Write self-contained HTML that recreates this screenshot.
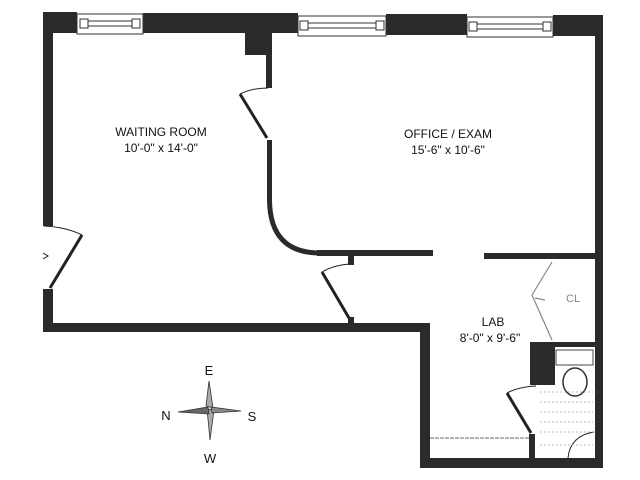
<!DOCTYPE html>
<html><head><meta charset="utf-8"><style>
html,body{margin:0;padding:0;background:#fff;width:640px;height:480px;overflow:hidden}
svg{display:block}
text{font-family:"Liberation Sans",sans-serif;font-size:12px;fill:#111}
</style></head><body>
<svg width="640" height="480" viewBox="0 0 640 480" xmlns="http://www.w3.org/2000/svg">
<g fill="#2a2a2a">
<!-- top wall -->
<rect x="43" y="12" width="34" height="21"/>
<rect x="143" y="13" width="155" height="20"/>
<rect x="245" y="33" width="27" height="22"/>
<rect x="266" y="33" width="6" height="55"/>
<rect x="386" y="14" width="81" height="21"/>
<rect x="553" y="15" width="50" height="21"/>
<!-- left wall -->
<rect x="43" y="12" width="10" height="214"/>
<rect x="43" y="289" width="10" height="43"/>
<!-- bottom of waiting -->
<rect x="43" y="323" width="387" height="9"/>
<!-- lab walls -->
<rect x="420" y="323" width="10" height="145"/>
<rect x="420" y="458" width="183" height="10"/>
<!-- right wall -->
<rect x="595" y="15" width="8" height="453"/>
<!-- partition -->
<rect x="267" y="140" width="5" height="62"/>
<rect x="317" y="250" width="116" height="6"/>
<rect x="484" y="253" width="112" height="6"/>
<!-- lab door blocks -->
<rect x="348" y="256" width="6" height="9"/>
<rect x="348" y="317" width="6" height="9"/>
<!-- bathroom -->
<rect x="530" y="342" width="66" height="5"/>
<rect x="530" y="342" width="25" height="43"/>
<rect x="529" y="434" width="6" height="26"/>
</g>
<!-- curved partition -->
<path d="M269.5,200 Q270,253 320,253" fill="none" stroke="#2a2a2a" stroke-width="5"/>
<!-- windows -->
<g fill="#fff" stroke="#333" stroke-width="1">
<rect x="77" y="14" width="66" height="20"/>
<rect x="80" y="19" width="8" height="9"/><rect x="132" y="19" width="8" height="9"/>
<line x1="88" y1="21" x2="132" y2="21"/><line x1="88" y1="26" x2="132" y2="26"/>
<rect x="298" y="16" width="88" height="20"/>
<rect x="300" y="21" width="8" height="9"/><rect x="376" y="21" width="8" height="9"/>
<line x1="308" y1="23" x2="376" y2="23"/><line x1="308" y1="28" x2="376" y2="28"/>
<rect x="467" y="17" width="86" height="20"/>
<rect x="469" y="22" width="8" height="9"/><rect x="543" y="22" width="8" height="9"/>
<line x1="477" y1="24" x2="543" y2="24"/><line x1="477" y1="29" x2="543" y2="29"/>
</g>
<!-- doors -->
<g stroke="#222" fill="none">
<line x1="240" y1="94" x2="267" y2="138" stroke-width="3"/>
<path d="M240,94 Q252,88 268,88" stroke-width="1"/>
<line x1="50" y1="288" x2="82" y2="235" stroke-width="3"/>
<path d="M44,226 Q66,227 82,235" stroke-width="1"/>
<path d="M43,253 L48,256 L43,259" stroke-width="1"/>
<line x1="322" y1="272" x2="349" y2="318" stroke-width="3"/>
<path d="M322,272 Q334,265 350,264" stroke-width="1"/>
<line x1="507" y1="393" x2="531" y2="433" stroke-width="3"/>
<path d="M507,393 Q518,387 536,386" stroke-width="1"/>
<path d="M568,458 Q570,436 594,432" stroke-width="1"/>
</g>
<!-- closet -->
<g stroke="#888" fill="none" stroke-width="1.2">
<polyline points="552,262 532,295 552,340"/>
<line x1="535" y1="298" x2="545" y2="300"/>
</g>
<text x="566" y="302" style="fill:#888;font-size:11px">CL</text>
<!-- bath fixtures -->
<rect x="556" y="350" width="37" height="15" fill="none" stroke="#444" stroke-width="1"/>
<ellipse cx="575" cy="382" rx="12" ry="14" fill="none" stroke="#333" stroke-width="1.5"/>
<line x1="430" y1="438" x2="529" y2="438" stroke="#999" stroke-width="1.5" stroke-dasharray="4,1"/>
<g stroke="#bbb" stroke-width="1" stroke-dasharray="2,2">
<line x1="540" y1="392" x2="593" y2="392"/><line x1="540" y1="402" x2="593" y2="402"/>
<line x1="540" y1="412" x2="593" y2="412"/><line x1="540" y1="422" x2="593" y2="422"/>
<line x1="540" y1="432" x2="593" y2="432"/><line x1="540" y1="445" x2="593" y2="445"/>
</g>
<!-- labels -->
<text x="161" y="136" text-anchor="middle">WAITING ROOM</text>
<text x="161" y="152" text-anchor="middle">10'-0" x 14'-0"</text>
<text x="448" y="138" text-anchor="middle">OFFICE / EXAM</text>
<text x="448" y="154" text-anchor="middle">15'-6" x 10'-6"</text>
<text x="493" y="326" text-anchor="middle">LAB</text>
<text x="490" y="342" text-anchor="middle">8'-0" x 9'-6"</text>
<!-- compass -->
<g stroke="#333" stroke-width="0.8">
<polygon points="209,381 206,406 213,408" fill="#aaa"/>
<polygon points="210,440 214,410 207,409" fill="#aaa"/>
<polygon points="178,412 208,407 209,414" fill="#666"/>
<polygon points="241,411 211,407 212,413" fill="#888"/>
</g>
<text x="209" y="375" text-anchor="middle" style="font-size:13px">E</text>
<text x="166" y="420" text-anchor="middle" style="font-size:13px">N</text>
<text x="252" y="421" text-anchor="middle" style="font-size:13px">S</text>
<text x="210" y="463" text-anchor="middle" style="font-size:13px">W</text>
</svg>
</body></html>
